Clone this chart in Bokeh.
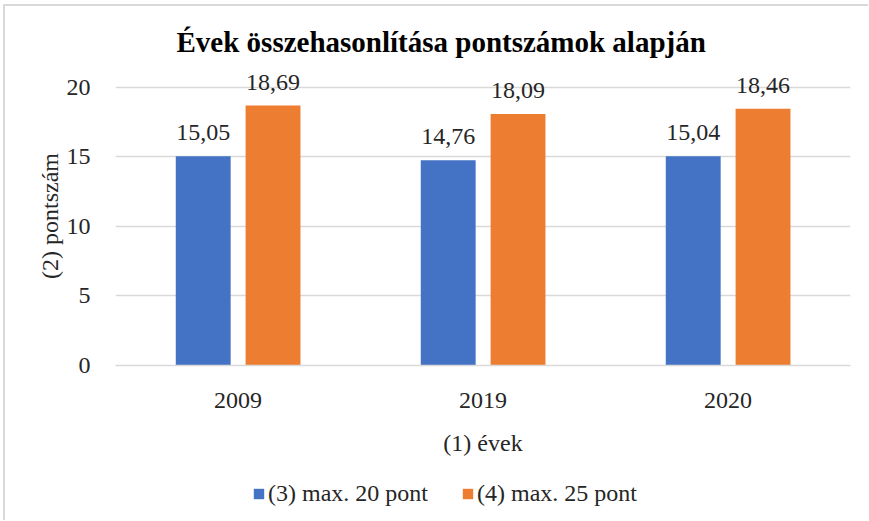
from bokeh.plotting import figure
from bokeh.layouts import column
from bokeh.models import ColumnDataSource, LabelSet, Legend, LegendItem, FixedTicker
from bokeh.transform import dodge
from bokeh.embed import file_html
from bokeh.resources import INLINE

years = ["2009", "2019", "2020"]
max20 = [15.05, 14.76, 15.04]
max25 = [18.69, 18.09, 18.46]
series_names = ["(3) max. 20 pont", "(4) max. 25 pont"]
title_text = "Évek összehasonlítása pontszámok alapján"
x_label = "(1) évek"
y_label = "(2) pontszám"
y_ticks = [0, 5, 10, 15, 20]

FONT = "Liberation Serif"
BLUE = "#4472C4"
ORANGE = "#ED7D31"
TXT = "#262626"
FS = "24px"

src = ColumnDataSource(dict(
    year=years, a=max20, b=max25,
    la=[f"{v:.2f}".replace(".", ",") for v in max20],
    lb=[f"{v:.2f}".replace(".", ",") for v in max25],
))

p = figure(x_range=years, y_range=(0, 21.5), width=863, height=464,
           output_backend="svg", toolbar_location=None,
           min_border_left=110, min_border_right=18,
           min_border_top=60, min_border_bottom=105)

r1 = p.vbar(x=dodge("year", -0.142, range=p.x_range), top="a", width=0.224,
            source=src, fill_color=BLUE, line_color=None)
r2 = p.vbar(x=dodge("year", 0.143, range=p.x_range), top="b", width=0.224,
            source=src, fill_color=ORANGE, line_color=None)

for col, lab, off in (("a", "la", -0.142), ("b", "lb", 0.143)):
    ls = LabelSet(x=dodge("year", off, range=p.x_range), y=col, text=lab, source=src,
                  text_align="center", text_baseline="alphabetic", y_offset=16,
                  text_font=FONT, text_font_size=FS, text_color=TXT)
    p.add_layout(ls)

p.x_range.range_padding = 0
p.yaxis.ticker = FixedTicker(ticks=y_ticks)
p.xaxis.axis_line_color = "#D9D9D9"
p.xaxis.axis_line_width = 1.5
p.yaxis.axis_line_color = None
p.axis.major_tick_line_color = None
p.axis.minor_tick_line_color = None
p.axis.major_label_text_font = FONT
p.axis.major_label_text_font_size = FS
p.axis.major_label_text_color = TXT
p.xaxis.major_label_standoff = 21
p.yaxis.major_label_standoff = 19
p.xaxis.axis_label = x_label
p.yaxis.axis_label = y_label
p.axis.axis_label_text_font = FONT
p.axis.axis_label_text_font_size = FS
p.axis.axis_label_text_font_style = "normal"
p.axis.axis_label_text_color = TXT
p.xaxis.axis_label_standoff = 19
p.yaxis.axis_label_standoff = 1

p.xgrid.grid_line_color = None
p.ygrid.grid_line_color = "#D9D9D9"
p.ygrid.grid_line_width = 1.5
p.outline_line_color = None

p.title.text = title_text
p.title.align = "left"
p.title.offset = 61
p.title.standoff = 17
p.title.text_font = FONT
p.title.text_font_size = "29px"
p.title.text_font_style = "bold"
p.title.text_color = "#000000"

# legend strip below the chart
lf = figure(width=863, height=50, x_range=(0, 863), y_range=(0, 50),
            output_backend="svg", toolbar_location=None, min_border=0,
            x_axis_location=None, y_axis_location=None)
lf.grid.visible = False
lf.outline_line_color = None
d1 = lf.vbar(x="a", top=0, width=0, source=src, fill_color=BLUE, line_color=None)
d2 = lf.vbar(x="b", top=0, width=0, source=src, fill_color=ORANGE, line_color=None)
legend = Legend(items=[LegendItem(label=series_names[0], renderers=[d1]),
                       LegendItem(label=series_names[1], renderers=[d2])],
                orientation="horizontal", location=(137, 13),
                glyph_width=13, glyph_height=13, label_standoff=3, spacing=33,
                padding=0, margin=0, border_line_color=None,
                background_fill_alpha=0,
                label_text_font=FONT, label_text_font_size=FS,
                label_text_color=TXT)
lf.add_layout(legend)

layout = column(p, lf, spacing=0, margin=(4, 0, 0, 3),
                styles={"border-top": "2px solid #D9D9D9",
                        "border-left": "2px solid #D9D9D9"})
open("out.html", "w").write(file_html(layout, INLINE))
